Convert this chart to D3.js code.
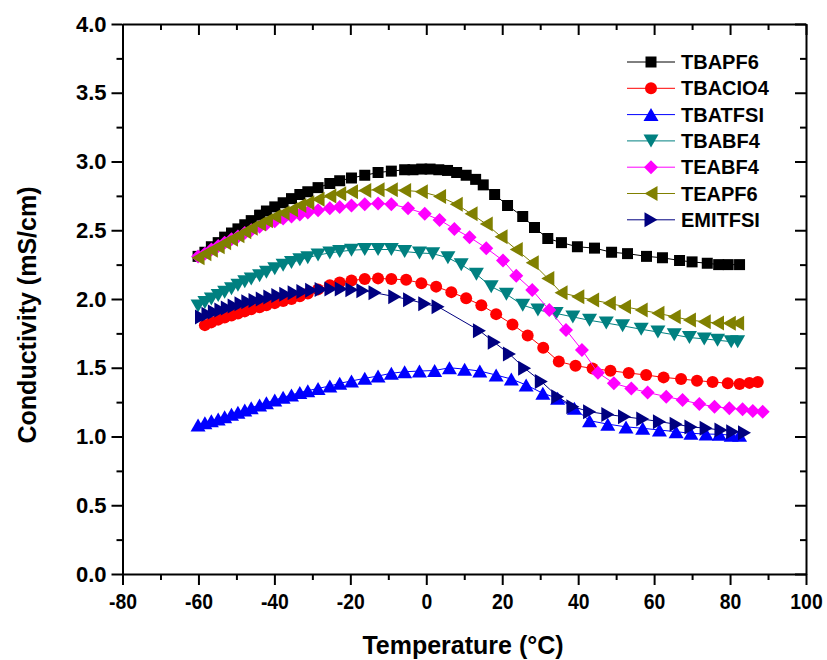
<!DOCTYPE html>
<html>
<head>
<meta charset="utf-8">
<script src="https://cdn.jsdelivr.net/npm/d3@7"></script>
<style>
  body { margin: 0; background: #fff; }
  svg { display: block; }
  text { font-family: "Liberation Sans", Arial, sans-serif; font-weight: bold; fill: #000; }
</style>
</head>
<body>
<svg id="chart" width="827" height="660"></svg>
<script>
// Conductivity (mS/cm) versus temperature (°C) for seven electrolytes.
const tbapf6T = [-60.1,-58.3,-56.6,-54.8,-53.1,-51.3,-49.6,-47.8,-46.1,-43.9,-42.1,-39.9,-37.7,-35.5,-33.3,-31.2,-28.5,-25.4,-22.8,-19.7,-16.2,-12.7,-9.2,-5.7,-3.5,-1.2,1.0,3.3,5.6,8.0,10.5,13.0,15.0,18.0,21.4,25.4,28.5,32.0,35.6,39.8,44.3,48.8,53.0,58.0,62.2,66.7,70.0,74.0,77.0,79.5,82.5];
const tbapf6C = [2.31,2.34,2.38,2.41,2.45,2.48,2.51,2.54,2.57,2.61,2.64,2.67,2.70,2.73,2.76,2.78,2.81,2.84,2.86,2.88,2.90,2.92,2.93,2.94,2.94,2.945,2.945,2.94,2.935,2.92,2.90,2.87,2.83,2.76,2.68,2.60,2.52,2.44,2.41,2.38,2.37,2.34,2.33,2.31,2.30,2.28,2.27,2.26,2.25,2.25,2.25];

const tbaclo4T = [-58.3,-56.6,-54.8,-53.1,-51.3,-49.6,-47.8,-46.1,-43.9,-42.1,-39.9,-37.7,-35.5,-33.3,-31.2,-28.5,-25.4,-22.8,-19.7,-16.2,-12.7,-9.2,-5.3,-1.3,2.6,6.6,10.5,14.5,18.4,22.7,26.7,30.8,34.9,39.3,43.8,48.5,53.3,57.9,62.5,67.1,71.3,75.4,79.4,82.5,85.1,87.3];
const tbaclo4C = [1.81,1.83,1.85,1.865,1.88,1.895,1.91,1.925,1.94,1.955,1.97,1.985,2.00,2.02,2.04,2.07,2.10,2.12,2.135,2.145,2.15,2.145,2.14,2.115,2.09,2.05,2.005,1.955,1.89,1.815,1.735,1.645,1.545,1.515,1.495,1.478,1.462,1.447,1.43,1.418,1.406,1.397,1.387,1.382,1.39,1.397];

const tbatfsiT = [-60.1,-58.3,-56.6,-54.8,-53.1,-51.3,-49.6,-47.8,-46.1,-43.9,-42.1,-39.9,-37.7,-35.5,-33.3,-31.2,-28.5,-25.4,-22.8,-19.7,-16.2,-12.7,-9.2,-5.7,-1.8,2.2,6.1,10.1,14.1,18.4,22.4,26.3,30.7,34.6,39.0,43.0,47.8,52.6,57.0,61.4,65.8,69.7,73.7,77.2,80.3,82.5];
const tbatfsiC = [1.084,1.10,1.115,1.127,1.144,1.162,1.176,1.193,1.21,1.229,1.246,1.265,1.285,1.302,1.32,1.333,1.35,1.367,1.387,1.404,1.423,1.44,1.46,1.471,1.476,1.48,1.50,1.49,1.476,1.447,1.418,1.375,1.314,1.278,1.205,1.115,1.09,1.07,1.06,1.047,1.035,1.023,1.018,1.016,1.01,1.01];

const tbabf4T = [-60.1,-58.3,-56.6,-54.8,-53.1,-51.3,-49.6,-47.8,-46.1,-43.9,-42.1,-39.9,-37.7,-35.5,-33.3,-31.2,-28.5,-25.4,-22.8,-19.7,-16.2,-12.7,-9.2,-5.7,-1.8,1.7,5.7,9.2,13.2,17.1,21.1,25.4,29.4,34.2,38.6,43.0,47.4,51.7,56.6,61.0,65.3,69.3,73.2,76.7,80.3,82.0];
const tbabf4C = [1.95,1.975,2.00,2.025,2.05,2.075,2.10,2.125,2.145,2.17,2.195,2.22,2.245,2.265,2.285,2.30,2.32,2.335,2.345,2.355,2.36,2.36,2.36,2.345,2.335,2.33,2.30,2.25,2.18,2.09,2.035,1.955,1.92,1.895,1.87,1.845,1.825,1.805,1.78,1.76,1.74,1.72,1.71,1.70,1.69,1.69];

const teabf4T = [-60.1,-58.3,-56.6,-54.8,-53.1,-51.3,-49.6,-47.8,-46.1,-43.9,-42.1,-39.9,-37.7,-35.5,-33.3,-31.2,-28.5,-25.4,-22.8,-19.7,-16.2,-12.7,-9.2,-4.8,-0.4,3.5,7.4,11.4,15.8,20.2,23.7,27.9,32.4,36.8,41.0,45.2,49.4,54.0,58.3,63.2,67.5,71.9,75.9,79.8,83.3,86.0,88.6];
const teabf4C = [2.31,2.33,2.36,2.385,2.41,2.435,2.455,2.48,2.50,2.525,2.545,2.565,2.585,2.60,2.615,2.63,2.645,2.66,2.67,2.68,2.69,2.695,2.69,2.66,2.62,2.575,2.51,2.45,2.37,2.28,2.17,2.065,1.92,1.775,1.63,1.464,1.387,1.35,1.32,1.29,1.265,1.236,1.217,1.205,1.198,1.185,1.18];

const teapf6T = [-60.1,-58.3,-56.6,-54.8,-53.1,-51.3,-49.6,-47.8,-46.1,-43.9,-42.1,-39.9,-37.7,-35.5,-33.3,-31.2,-28.5,-25.4,-22.8,-19.7,-16.2,-12.7,-9.2,-5.7,-1.3,3.5,7.9,11.8,15.8,19.7,23.7,27.9,32.0,35.5,39.9,43.8,48.2,52.2,56.6,61.0,65.3,69.3,73.2,76.7,79.8,82.0];
const teapf6C = [2.30,2.33,2.355,2.38,2.41,2.435,2.46,2.49,2.515,2.545,2.57,2.60,2.625,2.65,2.68,2.70,2.725,2.75,2.765,2.78,2.79,2.795,2.795,2.79,2.78,2.745,2.69,2.62,2.545,2.453,2.36,2.264,2.15,2.046,2.017,1.993,1.969,1.944,1.92,1.896,1.871,1.847,1.835,1.825,1.823,1.823];

const emitfsiT = [-59.2,-57.5,-55.8,-54.1,-52.4,-50.6,-48.8,-47.0,-45.1,-43.2,-41.2,-39.1,-37.0,-34.8,-32.5,-30.2,-27.7,-25.1,-22.4,-19.6,-16.7,-13.5,-8.3,-4.4,-0.4,3.1,14.0,17.9,21.9,25.9,30.3,34.6,38.6,43.0,47.8,52.2,57.0,61.4,65.8,69.7,73.7,77.6,80.7,83.8];
const emitfsiC = [1.87,1.89,1.905,1.92,1.935,1.95,1.965,1.98,1.99,2.00,2.015,2.025,2.035,2.045,2.055,2.063,2.07,2.073,2.073,2.068,2.06,2.045,2.017,1.995,1.965,1.944,1.77,1.685,1.60,1.496,1.40,1.29,1.217,1.18,1.16,1.144,1.127,1.108,1.089,1.07,1.06,1.047,1.035,1.028];

const seriesNames  = ["TBAPF6", "TBACIO4", "TBATFSI", "TBABF4", "TEABF4", "TEAPF6", "EMITFSI"];
const seriesColors = ["#000000", "#ff0000", "#0000ff", "#008080", "#ff00ff", "#808000", "#000080"];
const seriesShapes = ["square", "circle", "up", "down", "diamond", "left", "right"];
const seriesTemps  = [tbapf6T, tbaclo4T, tbatfsiT, tbabf4T, teabf4T, teapf6T, emitfsiT];
const seriesCond   = [tbapf6C, tbaclo4C, tbatfsiC, tbabf4C, teabf4C, teapf6C, emitfsiC];

const xMajorTicks = [-80, -60, -40, -20, 0, 20, 40, 60, 80, 100];
const xMinorTicks = [-70, -50, -30, -10, 10, 30, 50, 70, 90];
const yMajorTicks = [0.0, 0.5, 1.0, 1.5, 2.0, 2.5, 3.0, 3.5, 4.0];
const yMinorTicks = [0.25, 0.75, 1.25, 1.75, 2.25, 2.75, 3.25, 3.75];
const xTitle = "Temperature (°C)";
const yTitle = "Conductivity (mS/cm)";

const svg = d3.select("#chart");
const plotLeft = 122.5, plotRight = 806, plotTop = 24, plotBottom = 574;

const x = d3.scaleLinear().domain([-80, 100]).range([plotLeft, plotRight]);
const y = d3.scaleLinear().domain([0, 4]).range([plotBottom, plotTop]);

// marker outlines, centred on the data point
function markerPath(shape) {
  switch (shape) {
    case "square":  return "M-5.5,-5.5h11v11h-11Z";
    case "circle":  return "M6,0A6,6 0 1,1 -6,0A6,6 0 1,1 6,0Z";
    case "up":      return "M0,-6.5L7.5,6.5L-7.5,6.5Z";
    case "down":    return "M0,6.5L7.5,-6.5L-7.5,-6.5Z";
    case "diamond": return "M0,-7L7,0L0,7L-7,0Z";
    case "left":    return "M-6.5,0L6.5,-7.5L6.5,7.5Z";
    case "right":   return "M6.5,0L-6.5,-7.5L-6.5,7.5Z";
  }
}

function styleAxis(g) {
  g.selectAll("path.domain").attr("stroke", "#000").attr("stroke-width", 2);
  g.selectAll(".tick line").attr("stroke", "#000").attr("stroke-width", 2);
  g.selectAll("text").attr("font-family", "Liberation Sans, Arial, sans-serif")
    .attr("font-weight", "bold").attr("fill", "#000").attr("font-size", 22);
}
const noDomain = g => g.select("path.domain").remove();

// bottom and top axes (top ticks point inward)
const gx = svg.append("g").attr("transform", `translate(0,${plotBottom})`)
  .call(d3.axisBottom(x).tickValues(xMajorTicks).tickSize(11).tickSizeOuter(0).tickPadding(8).tickFormat(d => String(d)))
  .call(styleAxis);
// slightly narrow numerals on the temperature axis
gx.selectAll("text").each(function () {
  const w = this.getComputedTextLength();
  d3.select(this).attr("textLength", w * 0.88).attr("lengthAdjust", "spacingAndGlyphs");
});
svg.append("g").attr("transform", `translate(0,${plotBottom})`)
  .call(d3.axisBottom(x).tickValues(xMinorTicks).tickSize(6).tickSizeOuter(0).tickFormat(""))
  .call(noDomain).call(styleAxis);
svg.append("g").attr("transform", `translate(0,${plotTop})`)
  .call(d3.axisTop(x).tickValues(xMajorTicks).tickSize(-11).tickSizeOuter(0).tickFormat(""))
  .call(styleAxis);
svg.append("g").attr("transform", `translate(0,${plotTop})`)
  .call(d3.axisTop(x).tickValues(xMinorTicks).tickSize(-6).tickSizeOuter(0).tickFormat(""))
  .call(noDomain).call(styleAxis);

// left and right axes (right ticks point inward)
svg.append("g").attr("transform", `translate(${plotLeft},0)`)
  .call(d3.axisLeft(y).tickValues(yMajorTicks).tickSize(11).tickSizeOuter(0).tickPadding(5).tickFormat(d3.format(".1f")))
  .call(styleAxis);
svg.append("g").attr("transform", `translate(${plotLeft},0)`)
  .call(d3.axisLeft(y).tickValues(yMinorTicks).tickSize(6).tickSizeOuter(0).tickFormat(""))
  .call(noDomain).call(styleAxis);
svg.append("g").attr("transform", `translate(${plotRight},0)`)
  .call(d3.axisRight(y).tickValues(yMajorTicks).tickSize(-11).tickSizeOuter(0).tickFormat(""))
  .call(styleAxis);
svg.append("g").attr("transform", `translate(${plotRight},0)`)
  .call(d3.axisRight(y).tickValues(yMinorTicks).tickSize(-6).tickSizeOuter(0).tickFormat(""))
  .call(noDomain).call(styleAxis);

// series: connecting line, then markers; later series drawn on top
const line = d3.line().x(d => x(d[0])).y(d => y(d[1]));
seriesNames.forEach((name, i) => {
  const pts = seriesTemps[i].map((t, k) => [t, seriesCond[i][k]]);
  const g = svg.append("g").attr("class", "series");
  g.append("path").datum(pts).attr("d", line)
    .attr("fill", "none").attr("stroke", seriesColors[i]).attr("stroke-width", 1);
  g.selectAll("path.mk").data(pts).join("path").attr("class", "mk")
    .attr("d", markerPath(seriesShapes[i]))
    .attr("transform", d => `translate(${x(d[0])},${y(d[1])})`)
    .attr("fill", seriesColors[i]);
});

// legend
const legend = svg.append("g");
seriesNames.forEach((label, i) => {
  const ly = 62 + i * 26.3;
  const g = legend.append("g").attr("transform", `translate(0,${ly})`);
  g.append("line").attr("x1", 627).attr("x2", 675).attr("y1", 0).attr("y2", 0)
    .attr("stroke", seriesColors[i]).attr("stroke-width", 1);
  g.append("path").attr("d", markerPath(seriesShapes[i]))
    .attr("transform", "translate(651,0)").attr("fill", seriesColors[i]);
  g.append("text").attr("x", 681).attr("y", 7).attr("font-size", 20).text(label);
});

// axis titles
svg.append("text").attr("x", 463).attr("y", 654).attr("text-anchor", "middle")
  .attr("font-size", 25).text(xTitle);
svg.append("text").attr("transform", "translate(36,315) rotate(-90)").attr("text-anchor", "middle")
  .attr("font-size", 25).text(yTitle);
</script>
</body>
</html>
